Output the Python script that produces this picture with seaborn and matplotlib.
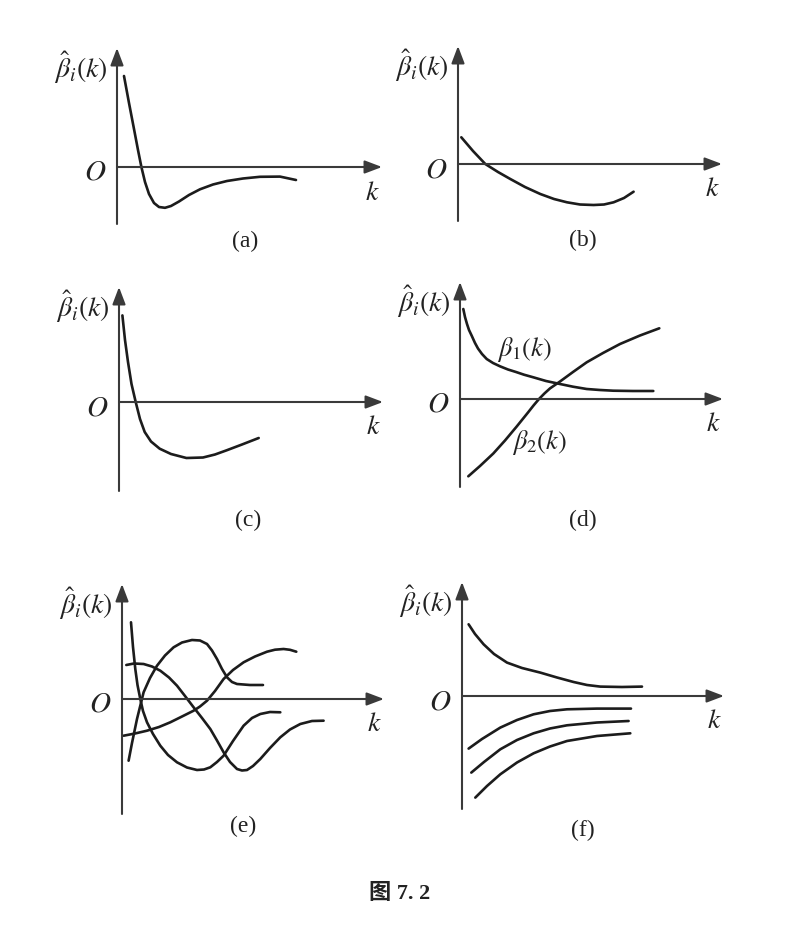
import matplotlib
matplotlib.use("Agg")
import matplotlib.pyplot as plt
import seaborn as sns
import numpy as np

sns.set_theme(style="white")
plt.rcParams['font.family'] = ['DejaVu Serif', 'Noto Sans CJK SC']
plt.rcParams['mathtext.fontset'] = 'stix'

# ---------------- data (units relative to origin) -------------
a_k = [7, 12, 17, 21, 24.4, 28, 32, 37, 42, 48, 54, 62, 72, 83, 96, 110, 126, 143, 163, 179]
a_b = [91, 64, 38, 17, 0, -15, -27, -36, -40, -40.8, -39, -34.5, -28, -22.3, -17.5, -14, -11.5, -9.8, -9.6, -13]

b_k = [3.3, 15, 27.3, 40, 52.3, 67, 82.3, 96, 109, 122, 135.6, 146, 155.6, 166, 175.6]
b_b = [26.7, 13, 0, -8, -15, -23, -30, -35, -38.3, -40.5, -41, -40.5, -38.3, -34, -27.7]

c_k = [3.4, 6, 9, 12.5, 16.7, 21, 25.7, 32, 40.7, 52, 67.4, 84, 96, 107.4, 123, 139.7]
c_b = [86.6, 62, 40, 18, 0, -17, -30, -39.5, -46.7, -52, -56, -55.5, -52.5, -48.4, -42.5, -36]

d1_k = [3.3, 5, 7, 9, 11.7, 15, 18, 22, 26.7, 33, 40, 48, 56, 64, 73.3, 86, 100, 113, 126.7, 140, 153.3, 173, 193.3]
d1_b = [90, 82, 75, 69, 63.3, 56, 50.5, 45, 40, 36, 32.7, 29.5, 27, 24.3, 21.7, 18, 15, 12.3, 10, 9, 8.3, 8, 8]
d2_k = [8.3, 20, 33.3, 45, 56.7, 68, 73.5, 79, 84.5, 90, 100, 113, 126.7, 143, 160, 180, 199.3]
d2_b = [-77.3, -67, -54.5, -41.5, -27.5, -13.5, -6.5, 0, 5.6, 10.6, 17.5, 27, 36.7, 46, 55, 63.5, 70.7]

e1_k = [9, 11, 13.3, 15.5, 18.3, 21, 25, 31, 38.3, 46, 55, 65, 75, 82, 88.3, 95, 101.6, 111, 121.6, 130, 138.3, 148, 158.3]
e1_b = [76.7, 52, 30, 14, 0, -12, -23.3, -35, -46.7, -56, -63.3, -68.5, -71, -70.5, -68.3, -63, -56.7, -42, -26.7, -19, -15, -13, -13.3]
e2_k = [6.6, 10, 15, 21.6, 28, 35, 43, 51.6, 60, 70, 78, 85, 90, 95, 100, 105, 110, 115, 128, 141]
e2_b = [-61.7, -44, -20, 6.7, 21, 33.3, 43.5, 51.7, 56.5, 59, 58.5, 55, 48.5, 40, 30, 21.7, 17, 15, 14, 14]
e3_k = [4.3, 12, 21.6, 30, 38.3, 47, 55, 63, 71.6, 80, 88.3, 95, 101.6, 108, 115, 120, 125, 131, 138.3, 148, 158.3, 168, 178.3, 190, 201.6]
e3_b = [34, 35.5, 35, 32.5, 28.3, 21.5, 13.3, 3, -8.3, -19, -30, -41.5, -53.3, -63, -70, -71.5, -71, -67, -60, -49, -38.3, -30.5, -25, -22, -21.7]
e4_k = [1.6, 13, 25, 37, 48.3, 60, 71.6, 78, 85, 93, 101.6, 111, 121.6, 133, 145, 153, 161.6, 168, 174.3]
e4_b = [-36.7, -34.5, -31.7, -28, -23.3, -17.5, -11.7, -7.5, -1.7, 8, 20, 29, 36.7, 42.5, 47.3, 49.3, 50, 49.2, 47.3]

f1_k = [6.6, 13, 21.6, 32, 45, 60, 78.3, 95, 111.6, 125, 138.3, 160, 180]
f1_b = [71.7, 62, 51.7, 42, 33.4, 28, 23.4, 18.5, 14, 11, 9.4, 9, 9.4]
f2_k = [6.6, 20, 38.3, 55, 71.6, 88, 105, 135, 169]
f2_b = [-52.6, -43, -31.6, -24, -18.3, -15, -13.3, -12.6, -12.6]
f3_k = [9.3, 22, 38.3, 55, 71.6, 88, 105, 135, 166.6]
f3_b = [-76.6, -66, -53.3, -44, -37.3, -32.5, -29.3, -26.5, -25]
f4_k = [13.3, 25, 38.3, 55, 71.6, 88, 105, 135, 168.3]
f4_b = [-101.6, -90, -78.3, -66.5, -57.3, -50.5, -45, -40, -37.3]

panel_tags = ['(a)', '(b)', '(c)', '(d)', '(e)', '(f)']
ylabel_text = r'$\hat{\beta}_i(k)$'
d_labels = [r'$\beta_1(k)$', r'$\beta_2(k)$']
caption = '图 7. 2'

panel_curves = [
    [(a_k, a_b)],
    [(b_k, b_b)],
    [(c_k, c_b)],
    [(d1_k, d1_b), (d2_k, d2_b)],
    [(e1_k, e1_b), (e2_k, e2_b), (e3_k, e3_b), (e4_k, e4_b)],
    [(f1_k, f1_b), (f2_k, f2_b), (f3_k, f3_b), (f4_k, f4_b)],
]

# ---------------- layout (image pixels) ----------------
W, H = 803, 928
# origin x, origin y, y-axis top, y-axis bottom, x-axis right end
geom = [
    (117, 168, 49, 225, 382),
    (458, 165, 47, 222, 722),
    (119, 403, 288, 492, 383),
    (460, 400, 283, 488, 723),
    (122, 700, 585, 815, 384),
    (462, 697, 583, 810, 724),
]
tag_offsets = [(128, -73), (125, -75), (129, -117), (123, -120), (121, -126), (121, -133)]

curve_color = '#1c1c1c'
axis_color = '#3a3a3a'
text_color = '#222222'

fig = plt.figure(figsize=(W / 100, H / 100), dpi=100)
fig.patch.set_facecolor('white')

for i, (ox, oy, top, bot, right) in enumerate(geom):
    xmin, xmax = -75, right - ox + 25
    ymin, ymax = -(bot - oy) - 90, (oy - top) + 25
    ax = fig.add_axes([(ox + xmin) / W, 1 - (oy - ymin) / H,
                       (xmax - xmin) / W, (ymax - ymin) / H])
    ax.set_xlim(xmin, xmax)
    ax.set_ylim(ymin, ymax)
    ax.axis('off')
    ax.patch.set_alpha(0)

    ap = dict(arrowstyle='-|>,head_length=0.95,head_width=0.36', lw=1.5,
              color=axis_color, shrinkA=0, shrinkB=0, mutation_scale=11)
    ax.annotate('', xy=(0, oy - top), xytext=(0, -(bot - oy)), arrowprops=ap)
    ax.annotate('', xy=(right - ox, 0), xytext=(0, 0), arrowprops=ap)

    for kx, by in panel_curves[i]:
        sns.lineplot(x=kx, y=by, ax=ax, color=curve_color, lw=1.9,
                     sort=False, estimator=None, legend=False)

    ax.text(-9, (oy - top) - 19, ylabel_text, ha='right', va='center',
            fontsize=20, color=text_color)
    ax.text(-22, -4, r'$O$', ha='center', va='center', fontsize=21, color=text_color)
    ax.text(right - ox - 10, -24, r'$k$', ha='center', va='center', fontsize=20,
            color=text_color)
    tx, ty = tag_offsets[i]
    ax.text(tx, ty, panel_tags[i], ha='center', va='center', fontsize=17,
            family='Liberation Serif', color=text_color)

    if i == 3:
        ax.text(64, 50, d_labels[0], ha='center', va='center', fontsize=19, color=text_color)
        ax.text(79, -43, d_labels[1], ha='center', va='center', fontsize=19, color=text_color)

fig.text(400 / W, 1 - 894 / H, caption, ha='center', va='center', fontsize=16,
         fontweight='bold', family=['Liberation Serif', 'Noto Sans CJK SC'], color=text_color)

fig.savefig('out.png', dpi=100, facecolor='white')
